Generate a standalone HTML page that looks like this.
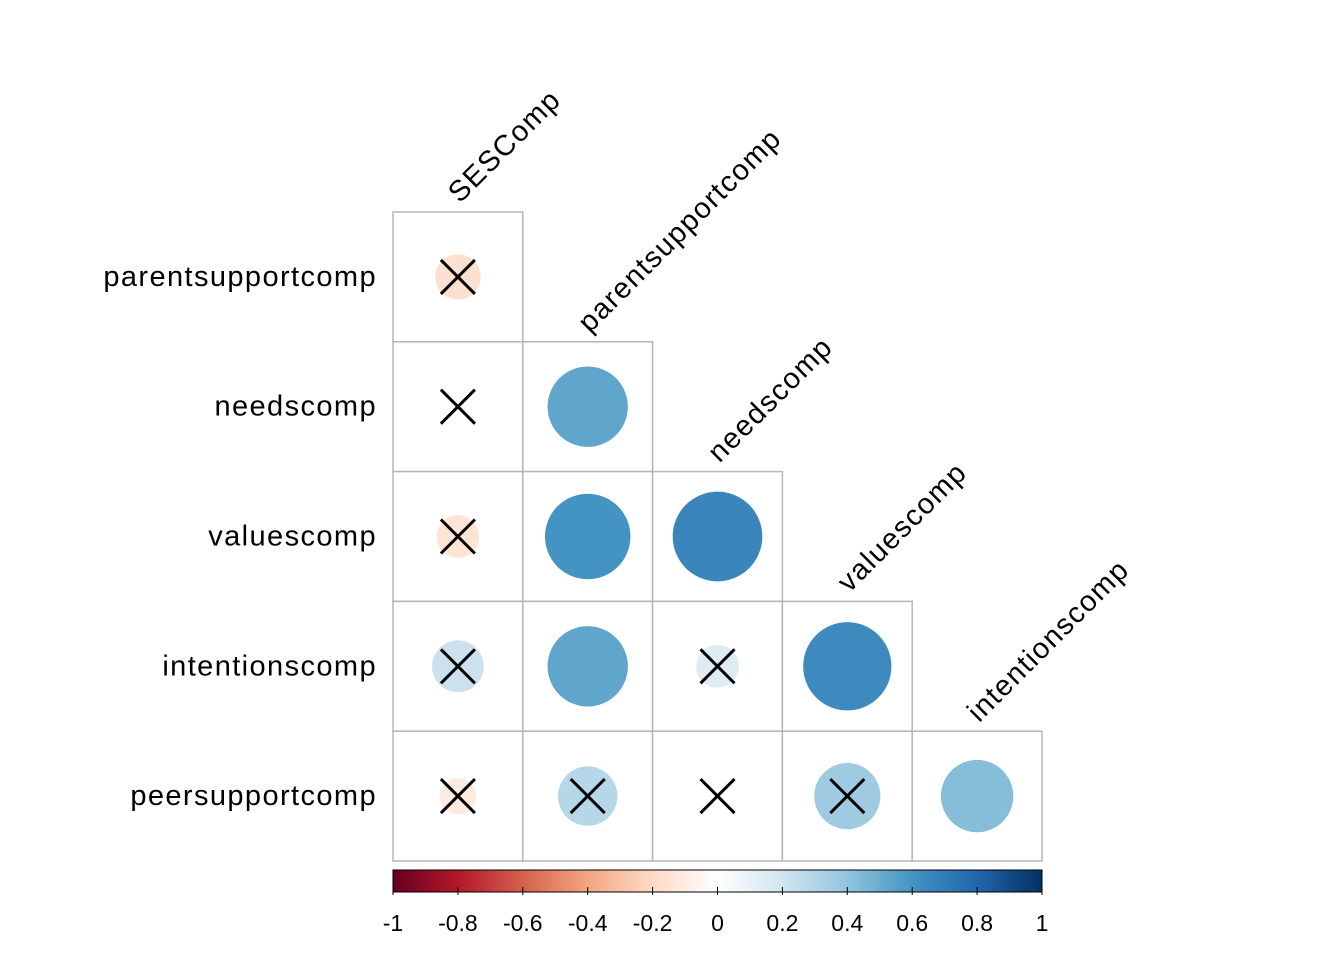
<!DOCTYPE html>
<html><head><meta charset="utf-8"><style>
body{margin:0;background:#fff}
svg{display:block;font-family:"Liberation Sans",Arial,sans-serif}
</style></head><body>
<svg id="chart" width="1344" height="960" viewBox="0 0 1344 960" xmlns="http://www.w3.org/2000/svg"></svg>
<script>
const variables = ["SESComp","parentsupportcomp","needscomp","valuescomp","intentionscomp","peersupportcomp"];
// lower-triangle correlations: row i+1 vs column j (j<=i)
const corrRows = [
  [-0.17],
  [0.00, 0.53],
  [-0.15, 0.60, 0.66],
  [0.22, 0.53, 0.15, 0.64],
  [-0.11, 0.29, 0.02, 0.36, 0.43]
];
const nonSig = [
  [true],
  [true, false],
  [true, false, false],
  [true, false, true, false],
  [true, true, true, true, false]
];
const tickLabels = ["-1","-0.8","-0.6","-0.4","-0.2","0","0.2","0.4","0.6","0.8","1"];
const tickValues = [-1,-0.8,-0.6,-0.4,-0.2,0,0.2,0.4,0.6,0.8,1];
const palette = ["#67001F","#B2182B","#D6604D","#F4A582","#FDDBC7","#FFFFFF","#D1E5F0","#92C5DE","#4393C3","#2166AC","#053061"];

const NS="http://www.w3.org/2000/svg";
const svg=document.getElementById('chart');
const X0=393, Y0=212, CELL=129.8, N=5;
const xCell=j=>X0+j*CELL, yCell=i=>Y0+i*CELL;
function mk(tag,attrs,parent){const e=document.createElementNS(NS,tag);for(const k in attrs)e.setAttribute(k,attrs[k]);(parent||svg).appendChild(e);return e;}
function hex(h){return [1,3,5].map(i=>parseInt(h.substr(i,2),16));}
function color(v){const t=(v+1)/2*(palette.length-1);const i=Math.max(0,Math.min(palette.length-2,Math.floor(t)));const f=t-i;const a=hex(palette[i]),b=hex(palette[i+1]);return 'rgb('+a.map((c,k)=>Math.round(c+(b[k]-c)*f)).join(',')+')';}

for(let i=0;i<N;i++){
  const rl=mk('text',{x:377,y:yCell(i)+CELL/2+9,'text-anchor':'end','font-size':29,'letter-spacing':1.4,fill:'#000'});
  
  
  rl.textContent=variables[i+1];
  for(let j=0;j<=i;j++){
    const r=mk('rect',{x:xCell(j),y:yCell(i),width:CELL,height:CELL,fill:'#fff',stroke:'#b5b5b5','stroke-width':1.5});
    
    
    const v=corrRows[i][j];
    const cx=xCell(j)+CELL/2, cy=yCell(i)+CELL/2;
    const rad=Math.sqrt(Math.abs(v))*CELL*0.425;
    const c=mk('circle',{cx:cx,cy:cy,r:rad,fill:color(v)});
    
    
    if(nonSig[i][j]){
      const d=17;
      const g=mk('path',{d:`M${cx-d},${cy-d}L${cx+d},${cy+d}M${cx+d},${cy-d}L${cx-d},${cy+d}`,stroke:'#000','stroke-width':3,fill:'none'});
      
      
    }
  }
}
for(let j=0;j<N;j++){
  const x=xCell(j)+CELL/2+2, y=yCell(j)-8;
  const t=mk('text',{x:x,y:y,'font-size':29,'letter-spacing':1.4,fill:'#000',transform:`rotate(-45 ${x} ${y})`});
  
  
  t.textContent=variables[j];
}
// colorbar
const CB0=393, CB1=1042, CBY=870, CBH=22;
const cbx=v=>CB0+(v+1)/2*(CB1-CB0);
const defs=mk('defs',{});
const grad=mk('linearGradient',{id:'cbg',x1:0,x2:1,y1:0,y2:0},defs);
palette.forEach((p,k)=>mk('stop',{offset:k/(palette.length-1),'stop-color':p},grad));
const cb=mk('rect',{x:CB0,y:CBY,width:CB1-CB0,height:CBH,fill:'url(#cbg)',stroke:'#000','stroke-width':1});


tickValues.forEach((v,k)=>{
  const x=cbx(v);
  const tk=mk('line',{x1:x,x2:x,y1:CBY+CBH-5,y2:CBY+CBH+3,stroke:'#000','stroke-width':1});
  
  
  const tl=mk('text',{x:x,y:931,'text-anchor':'middle','font-size':23,fill:'#000'});
  
  
  tl.textContent=tickLabels[k];
});
</script>
</body></html>
